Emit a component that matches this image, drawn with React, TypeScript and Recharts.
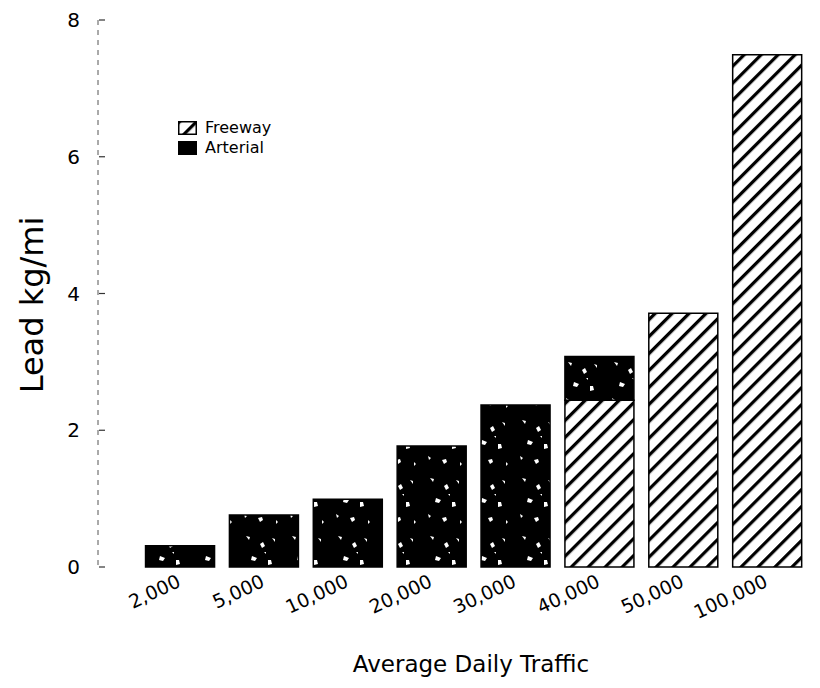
import React from 'react';
import { BarChart, Bar, XAxis, YAxis, Legend, Label } from 'recharts';

const categories = ['2,000', '5,000', '10,000', '20,000', '30,000', '40,000', '50,000', '100,000'];
const freewayValues: (number | null)[] = [null, null, null, null, null, 2.44, 3.71, 7.49];
const arterialValues: (number | null)[] = [0.31, 0.76, 0.99, 1.77, 2.37, 0.64, null, null];
const yTicks = [0, 2, 4, 6, 8];

const data = categories.map((c, i) => ({ adt: c, freeway: freewayValues[i], arterial: arterialValues[i] }));

const FONT = '"DejaVu Sans", "Open Sans", sans-serif';

const XTick = (props: any) => {
  const { x, payload } = props;
  const tx = x + 2;
  const ty = 578;
  return (
    <text x={tx} y={ty} transform={`rotate(-25, ${tx}, ${ty})`} textAnchor="end" fontSize={19} fontFamily={FONT} fill="#000">
      {payload.value}
    </text>
  );
};

const YTick = (props: any) => {
  const { y, payload } = props;
  return (
    <g>
      <text x={72} y={y + 7} textAnchor="end" fontSize={20} fontFamily={FONT} fill="#000">{payload.value}</text>
      <line x1={91} x2={97} y1={y} y2={y} stroke="#333" strokeWidth={1.2} />
    </g>
  );
};

const LegendContent = () => (
  <div style={{ fontFamily: FONT, fontSize: 16, lineHeight: '20px' }}>
    <div style={{ display: 'flex', alignItems: 'center' }}>
      <svg width={19} height={14} style={{ marginRight: 8 }}>
        <rect x={0.75} y={0.75} width={17.5} height={12.5} fill="url(#hatch)" stroke="#000" strokeWidth={1.5} />
      </svg>
      <span>Freeway</span>
    </div>
    <div style={{ display: 'flex', alignItems: 'center' }}>
      <svg width={19} height={14} style={{ marginRight: 8 }}>
        <rect x={0} y={0} width={19} height={14} fill="#000" />
      </svg>
      <span>Arterial</span>
    </div>
  </div>
);

export default function App() {
  return (
    <BarChart
      width={812}
      height={680}
      data={data}
      margin={{ top: 12, right: 11, bottom: 16, left: 0 }}
      barCategoryGap="9%"
    >
      <defs>
        <pattern id="hatch" patternUnits="userSpaceOnUse" width={12} height={12} patternTransform="rotate(45)">
          <rect width={12} height={12} fill="#fff" />
          <line x1={0} y1={0} x2={0} y2={12} stroke="#000" strokeWidth={6.5} />
        </pattern>
        <pattern id="speckle" patternUnits="userSpaceOnUse" width={46} height={58}>
          <rect width={46} height={58} fill="#000" />
          <path d="M8 6 l4 1 l-1 3 z M22 14 l3 -2 l2 4 l-3 2 z M34 8 l3 1 l0 3 z M14 26 l5 2 l-2 3 l-4 -1 z M30 30 l3 0 l1 4 l-4 1 z M6 42 l3 2 l-2 2 z M20 46 l4 -1 l1 3 l-3 2 z M38 48 l2 2 l-2 2 z M26 22 l2 0 l0 2 z" fill="#fff" />
        </pattern>
      </defs>
      <XAxis
        dataKey="adt"
        axisLine={false}
        tickLine={false}
        tick={<XTick />}
        interval={0}
        height={105}
        padding={{ left: 40, right: 0 }}
      >
        <Label
          content={() => (
            <text x={463} y={664} textAnchor="middle" fontSize={23} fontFamily={FONT} fill="#000">
              Average Daily Traffic
            </text>
          )}
        />
      </XAxis>
      <YAxis
        domain={[0, 8]}
        ticks={yTicks}
        width={90}
        axisLine={{ stroke: '#555', strokeDasharray: '5 5', strokeWidth: 1 }}
        tickLine={false}
        tick={<YTick />}
        interval={0}
      >
        <Label
          content={() => (
            <text
              x={24}
              y={297}
              transform="rotate(-90, 24, 297)"
              textAnchor="middle"
              dominantBaseline="central"
              fontSize={32}
              fontFamily={FONT}
              fill="#000"
            >
              Lead kg/mi
            </text>
          )}
        />
      </YAxis>
      <Legend
        content={<LegendContent />}
        layout="vertical"
        verticalAlign="middle"
        align="center"
        wrapperStyle={{ top: 110, left: 170, width: 140 }}
      />
      <Bar dataKey="freeway" name="Freeway" stackId="a" fill="url(#hatch)" stroke="#000" strokeWidth={1.5} isAnimationActive={false} />
      <Bar dataKey="arterial" name="Arterial" stackId="a" fill="url(#speckle)" stroke="#000" strokeWidth={1.5} isAnimationActive={false} />
    </BarChart>
  );
}
